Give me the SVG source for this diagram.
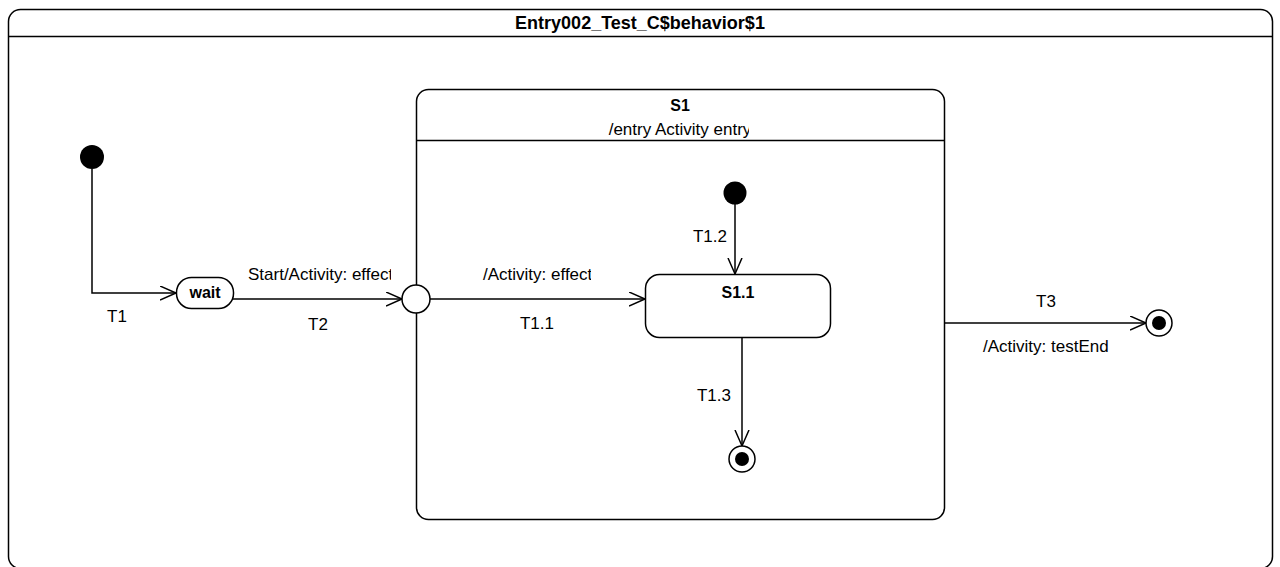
<svg xmlns="http://www.w3.org/2000/svg" width="1280" height="567" viewBox="0 0 1280 567">
<defs>
<style>
.ln{fill:none;stroke:#000;stroke-width:1.5}
.box{fill:#fff;stroke:#000;stroke-width:1.5}
.t{font-family:"Liberation Sans",Arial,sans-serif;font-size:17px;fill:#000}
.b{font-weight:bold;font-size:16px}
.c{text-anchor:middle}
</style>
<marker id="arr" markerWidth="18" markerHeight="16" refX="16" refY="7.5" orient="auto" markerUnits="userSpaceOnUse">
<path d="M0,0.5 L16,7.5 L0,14.5" fill="none" stroke="#000" stroke-width="1.5"/>
</marker>
<clipPath id="c1"><rect x="240" y="260" width="151" height="30"/></clipPath>
<clipPath id="c2"><rect x="470" y="260" width="121" height="30"/></clipPath>
<clipPath id="c3"><rect x="560" y="115" width="189" height="24"/></clipPath>
</defs>
<rect x="0" y="0" width="1280" height="567" fill="#fff"/>
<g id="frame">
<rect class="box" x="8.5" y="9.5" width="1264" height="559" rx="12"/>
<line class="ln" x1="8.5" y1="36.5" x2="1272.5" y2="36.5"/>
<text class="t b c" x="640" y="29" style="font-size:18px">Entry002_Test_C$behavior$1</text>
</g>
<g id="S1">
<rect class="box" x="416.5" y="89.5" width="528" height="430" rx="12"/>
<line class="ln" x1="416.5" y1="140.5" x2="944.5" y2="140.5"/>
<text class="t b c" x="680" y="111">S1</text>
<text class="t c" x="680" y="135" clip-path="url(#c3)">/entry Activity entry</text>
</g>
<g id="connectors">
<path class="ln" d="M92,169 V293 H176" marker-end="url(#arr)"/>
<path class="ln" d="M233,299 H402" marker-end="url(#arr)"/>
<path class="ln" d="M430,299 H645" marker-end="url(#arr)"/>
<path class="ln" d="M735,204 V274" marker-end="url(#arr)"/>
<path class="ln" d="M742,338 V446" marker-end="url(#arr)"/>
<path class="ln" d="M944.5,323 H1146" marker-end="url(#arr)"/>
<text class="t c" x="117" y="322">T1</text>
<text class="t" x="248" y="280" clip-path="url(#c1)">Start/Activity: effect</text>
<text class="t c" x="318" y="330">T2</text>
<text class="t" x="483" y="280" clip-path="url(#c2)">/Activity: effect</text>
<text class="t c" x="537" y="329">T1.1</text>
<text class="t c" x="710" y="242">T1.2</text>
<text class="t c" x="714" y="401">T1.3</text>
<text class="t c" x="1046" y="307">T3</text>
<text class="t" x="983" y="352">/Activity: testEnd</text>
</g>
<g id="init1"><circle cx="92" cy="157" r="12" fill="#000"/></g>
<g id="wait">
<rect class="box" x="176.5" y="277.5" width="57" height="31" rx="15"/>
<text class="t b c" x="205" y="298">wait</text>
</g>
<g id="entry"><circle class="box" cx="416" cy="299" r="14"/></g>
<g id="init2"><circle cx="735" cy="193" r="11.5" fill="#000"/></g>
<g id="S1_1">
<rect class="box" x="645.5" y="274.5" width="185" height="63" rx="14"/>
<text class="t b c" x="738" y="298">S1.1</text>
</g>
<g id="final1">
<circle class="box" cx="742" cy="459" r="13"/>
<circle cx="742" cy="459" r="7" fill="#000"/>
</g>
<g id="final2">
<circle class="box" cx="1159" cy="323" r="13"/>
<circle cx="1159" cy="323" r="7" fill="#000"/>
</g>
</svg>
